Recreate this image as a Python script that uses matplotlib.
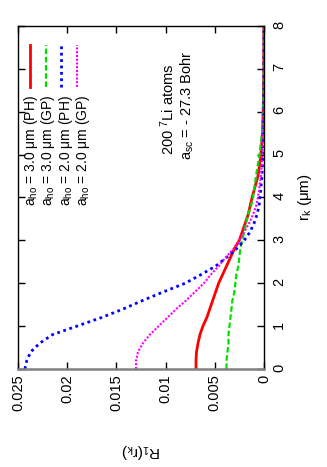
import matplotlib
matplotlib.use("Agg")
from matplotlib import pyplot as plt

plt.rcParams['font.family'] = ['Liberation Sans', 'DejaVu Sans']
plt.rcParams['mathtext.fontset'] = 'custom'
plt.rcParams['mathtext.rm'] = 'Liberation Sans'
plt.rcParams['mathtext.it'] = 'Liberation Sans'

# r_k (um) grid and R_1(r_k) for each curve
r_k = [0, 0.2, 0.4, 0.6, 0.8, 1.0, 1.2, 1.4, 1.6, 1.8, 2.0, 2.2, 2.4, 2.6, 2.8,
       3.0, 3.2, 3.4, 3.6, 3.8, 4.0, 4.5, 5.0, 5.5, 6.0, 7.0, 8.0]
R_30_PH = [0.0069, 0.0069, 0.00685, 0.0067, 0.0065, 0.0062, 0.0058, 0.0055, 0.0052,
           0.0049, 0.0046, 0.0042, 0.0038, 0.0034, 0.0030, 0.0025, 0.0022, 0.0019,
           0.0016, 0.0014, 0.0012, 0.0006, 0.0003, 0.00015, 0.00007, 0.00001, 0.0]
R_30_GP = [0.0038, 0.0038, 0.0037, 0.0036, 0.0036, 0.0035, 0.0034, 0.0033, 0.0032,
           0.0030, 0.0029, 0.0028, 0.0026, 0.0025, 0.0024, 0.0022, 0.0020, 0.0018,
           0.0016, 0.0013, 0.0011, 0.0008, 0.00045, 0.0002, 0.0001, 0.00002, 0.0]
R_20_PH = [0.0243, 0.0241, 0.0237, 0.0228, 0.0215, 0.0190, 0.0165, 0.0143, 0.0123,
           0.0102, 0.0080, 0.0064, 0.0049, 0.0038, 0.0028, 0.0020, 0.0014, 0.0010,
           0.0007, 0.0005, 0.0004, 0.0002, 0.0001, 0.00005, 0.00002, 0.0, 0.0]
R_20_GP = [0.0130, 0.0130, 0.0128, 0.0123, 0.0116, 0.0107, 0.0098, 0.0089, 0.0079,
           0.0070, 0.0061, 0.0054, 0.0046, 0.0039, 0.0031, 0.0025, 0.0020, 0.0015,
           0.0011, 0.0008, 0.0006, 0.0003, 0.00015, 0.00007, 0.00003, 0.00001, 0.0]

labels = [r'$a_{\rm ho}$ = 3.0 μm (PH)', r'$a_{\rm ho}$ = 3.0 μm (GP)',
          r'$a_{\rm ho}$ = 2.0 μm (PH)', r'$a_{\rm ho}$ = 2.0 μm (GP)']
colors = ['#ff0000', '#00e000', '#0000ff', '#ff00ff']
styles = ['-', (0, (2.5, 1.2)), (0, (1, 1.3)), (0, (1, 0.8))]
widths = [2.0, 1.6, 2.0, 1.5]
series = [R_30_PH, R_30_GP, R_20_PH, R_20_GP]

fig = plt.figure(figsize=(3.27, 4.67), dpi=100)
ax = fig.add_axes([0.055, 0.2099, 0.752, 0.7345])

for vals, c, ls, lw in zip(series, colors, styles, widths):
    ax.plot(vals, r_k, color=c, linestyle=ls, linewidth=lw)

ax.set_xlim(0.025, 0)
ax.set_ylim(0, 8)
ax.set_xticks([0, 0.005, 0.01, 0.015, 0.02, 0.025])
ax.set_xticklabels(['0', '0.005', '0.01', '0.015', '0.02', '0.025'])
ax.set_yticks(range(9))
ax.yaxis.tick_right()
ax.yaxis.set_label_position('right')
ax.tick_params(direction='in', length=5, width=1, top=True, bottom=True,
               left=True, right=True, labelleft=False, labelright=True,
               labelsize=10.5, labelrotation=90)
ax.tick_params(axis='x', pad=4)
ax.tick_params(axis='y', pad=6)
for s in ['top', 'left', 'right']:
    ax.spines[s].set_linewidth(1)
ax.spines['bottom'].set_color('#808080')
ax.spines['bottom'].set_linewidth(1.8)

ax.set_xlabel(r'$R_1(r_k)$', rotation=180, fontsize=11, labelpad=22)
ax.set_ylabel(r'$r_k$ (μm)', rotation=90, fontsize=11, labelpad=7)

# legend, drawn rotated like the rest
leg_x = [0.049, 0.114, 0.175, 0.240]
for lx, c, ls, lw in zip(leg_x, colors, styles, widths):
    ax.plot([lx, lx], [0.822, 0.945], transform=ax.transAxes, color=c,
            linestyle=ls, linewidth=lw)
ax.text(sum(leg_x) / 4 + 0.014, 0.80, '\n'.join(labels), transform=ax.transAxes,
        rotation=90, ha='center', va='top', multialignment='right',
        linespacing=0.95, fontsize=10)

ax.text(0.61, 0.624, r'200 $^{7}$Li atoms', transform=ax.transAxes,
        rotation=90, ha='center', va='bottom', fontsize=10.5)
ax.text(0.687, 0.609, r'$a_{\rm sc}$ = - 27.3 Bohr', transform=ax.transAxes,
        rotation=90, ha='center', va='bottom', fontsize=10.5)

fig.savefig('out.png', dpi=100)
